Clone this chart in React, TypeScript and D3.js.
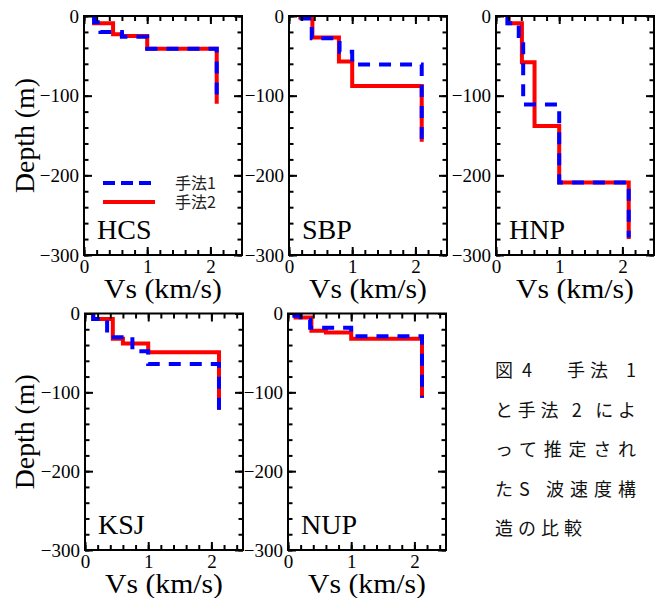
import React, { useEffect, useRef } from 'react'
import * as d3 from 'd3'

// 観測点
const STATIONS = ['HCS', 'SBP', 'HNP', 'KSJ', 'NUP']

// Vs (km/s) と層下端の深さ (m)  _1: 手法1, _2: 手法2
const HCS_VS_1 = [0.16, 0.26, 0.6, 1.0, 2.1]
const HCS_Z_1 = [8, 20, 26, 41, 108]
const HCS_VS_2 = [0.16, 0.46, 0.6, 1.0, 2.1]
const HCS_Z_2 = [9, 23, 25, 41, 110]

const SBP_VS_1 = [0.2, 0.36, 0.8, 1.0, 2.1]
const SBP_Z_1 = [3, 28, 45, 61, 158]
const SBP_VS_2 = [0.18, 0.37, 0.79, 1.0, 2.1]
const SBP_Z_2 = [2, 27, 57, 88, 158]

const HNP_VS_1 = [0.18, 0.36, 0.43, 1.0, 2.1]
const HNP_Z_1 = [9, 25, 111, 209, 278]
const HNP_VS_2 = [0.2, 0.41, 0.61, 1.0, 2.1]
const HNP_Z_2 = [9, 58, 138, 209, 280]

const KSJ_VS_1 = [0.13, 0.35, 0.75, 1.0, 2.12]
const KSJ_Z_1 = [7, 30, 48, 64, 127]
const KSJ_VS_2 = [0.13, 0.44, 0.6, 1.0, 2.12]
const KSJ_Z_2 = [7, 32, 38, 49, 122]

const NUP_VS_1 = [0.1, 0.2, 0.35, 1.0, 2.12]
const NUP_Z_1 = [3, 8, 18, 29, 107]
const NUP_VS_2 = [0.12, 0.37, 0.6, 1.0, 2.12]
const NUP_Z_2 = [5, 22, 24, 32, 107]

const METHOD1 = [[HCS_VS_1, HCS_Z_1], [SBP_VS_1, SBP_Z_1], [HNP_VS_1, HNP_Z_1], [KSJ_VS_1, KSJ_Z_1], [NUP_VS_1, NUP_Z_1]]
const METHOD2 = [[HCS_VS_2, HCS_Z_2], [SBP_VS_2, SBP_Z_2], [HNP_VS_2, HNP_Z_2], [KSJ_VS_2, KSJ_Z_2], [NUP_VS_2, NUP_Z_2]]

const LEGEND = ['手法1', '手法2']
const X_MAJOR = [0, 1, 2]
const Y_MAJOR = [0, -100, -200, -300]
const CAPTION = ['と手法 2 によ', 'って推定され', 'たS 波速度構', '造の比較']

// レイアウト
const PANEL_X = [84, 289, 496, 85, 288]
const PANEL_Y = [16, 16, 16, 313.5, 313.5]
const PANEL_W = 158
const PANEL_H = [239, 239, 239, 236.5, 236.5]
const SERIF = "'Liberation Serif', Tinos, 'Times New Roman', Times, serif"
const CJK = "'Noto Sans CJK JP', sans-serif"

function stepPoints(vs: number[], z: number[]) {
  const pts: [number, number][] = [[vs[0], 0]]
  vs.forEach((v, i) => {
    pts.push([v, z[i]])
    if (i < vs.length - 1) pts.push([vs[i + 1], z[i]])
  })
  return pts
}

function drawChart(el: SVGSVGElement) {
  const svg = d3.select(el)
  svg.selectAll('*').remove()

  STATIONS.forEach((name, k) => {
    const x0 = PANEL_X[k]
    const y0 = PANEL_Y[k]
    const h = PANEL_H[k]
    const g = svg.append('g').attr('transform', 'translate(' + x0 + ',' + y0 + ')')

    const x = d3.scaleLinear().domain([0, 2.5]).range([0, PANEL_W])
    const y = d3.scaleLinear().domain([-300, 0]).range([h, 0])

    const line = d3.line<[number, number]>()
      .x(d => x(d[0]))
      .y(d => y(-d[1]))

    // 手法2 (赤実線) を先に、手法1 (青破線) を上に
    g.append('path')
      .attr('d', line(stepPoints(METHOD2[k][0], METHOD2[k][1])))
      .attr('fill', 'none')
      .attr('stroke', '#ff0000')
      .attr('stroke-width', 4)
    g.append('path')
      .attr('d', line(stepPoints(METHOD1[k][0], METHOD1[k][1])))
      .attr('fill', 'none')
      .attr('stroke', '#0000ff')
      .attr('stroke-width', 4)
      .attr('stroke-dasharray', '12,9')

    // 目盛り (内向き)
    const xMinor = d3.range(0, 2.41, 0.2)
    const yMinor = d3.range(-300, 1, 20)
    const styleAxis = (a: any) => {
      a.attr('font-family', null).attr('font-size', null)
      a.select('.domain').remove()
      a.selectAll('line').attr('stroke', '#000').attr('stroke-width', 2)
      a.selectAll('text').style('font-family', SERIF).style('font-size', '19px').attr('fill', '#000')
    }

    g.append('g').attr('transform', 'translate(0,' + h + ')')
      .call(d3.axisBottom(x).tickValues(xMinor).tickSizeInner(-5).tickSizeOuter(0).tickFormat(() => ''))
      .call(styleAxis)
    g.append('g').attr('transform', 'translate(0,' + h + ')')
      .call(d3.axisBottom(x).tickValues(X_MAJOR).tickSizeInner(-8).tickSizeOuter(0).tickPadding(5).tickFormat(d3.format('d')))
      .call(styleAxis)
    g.append('g')
      .call(d3.axisTop(x).tickValues(xMinor).tickSizeInner(-5).tickSizeOuter(0).tickFormat(() => ''))
      .call(styleAxis)
    g.append('g')
      .call(d3.axisTop(x).tickValues(X_MAJOR).tickSizeInner(-8).tickSizeOuter(0).tickFormat(() => ''))
      .call(styleAxis)

    g.append('g')
      .call(d3.axisLeft(y).tickValues(yMinor).tickSizeInner(-4.5).tickSizeOuter(0).tickFormat(() => ''))
      .call(styleAxis)
    g.append('g')
      .call(d3.axisLeft(y).tickValues(Y_MAJOR).tickSizeInner(-8).tickSizeOuter(0).tickPadding(5).tickFormat(d3.format('d')))
      .call(styleAxis)
    g.append('g').attr('transform', 'translate(' + PANEL_W + ',0)')
      .call(d3.axisRight(y).tickValues(yMinor).tickSizeInner(-4.5).tickSizeOuter(0).tickFormat(() => ''))
      .call(styleAxis)
    g.append('g').attr('transform', 'translate(' + PANEL_W + ',0)')
      .call(d3.axisRight(y).tickValues(Y_MAJOR).tickSizeInner(-8).tickSizeOuter(0).tickFormat(() => ''))
      .call(styleAxis)

    // 枠
    g.append('rect')
      .attr('width', PANEL_W)
      .attr('height', h)
      .attr('fill', 'none')
      .attr('stroke', '#000')
      .attr('stroke-width', 2)

    // 観測点名
    g.append('text')
      .attr('x', 13)
      .attr('y', h - 16)
      .style('font-family', SERIF)
      .style('font-size', '28px')
      .text(name)

    // x 軸ラベル
    g.append('text')
      .attr('x', PANEL_W / 2)
      .attr('y', h + 43)
      .attr('text-anchor', 'middle')
      .style('font-family', SERIF)
      .style('font-size', '28px')
      .attr('textLength', 118)
      .attr('lengthAdjust', 'spacingAndGlyphs')
      .text('Vs (km/s)')

    // y 軸ラベル (左列のみ)
    if (k === 0 || k === 3) {
      g.append('text')
        .attr('transform', 'translate(' + (34 - x0) + ',' + h / 2 + ') rotate(-90)')
        .attr('text-anchor', 'middle')
        .style('font-family', SERIF)
        .style('font-size', '28px')
        .attr('textLength', 115)
        .attr('lengthAdjust', 'spacingAndGlyphs')
        .text('Depth (m)')
    }

    // 凡例 (HCS のみ)
    if (k === 0) {
      const colors = ['#0000ff', '#ff0000']
      LEGEND.forEach((lab, i) => {
        const ly = 167 + i * 19
        g.append('line')
          .attr('x1', 19).attr('x2', 71)
          .attr('y1', ly).attr('y2', ly)
          .attr('stroke', colors[i])
          .attr('stroke-width', 4)
          .attr('stroke-dasharray', i === 0 ? '12,6' : null)
        g.append('text')
          .attr('x', 91)
          .attr('y', ly + 6)
          .style('font-family', CJK)
          .style('font-size', '16px')
          .attr('fill', '#222')
          .text(lab)
      })
    }
  })

  // 図の説明
  const cap = svg.append('g').style('font-family', CJK).style('font-size', '18px').attr('fill', '#111')
  const first = cap.append('text').attr('y', 377)
  first.append('tspan').attr('x', 495).text('図')
  first.append('tspan').attr('x', 522).text('4')
  first.append('tspan').attr('x', 567).text('手')
  first.append('tspan').attr('x', 590).text('法')
  first.append('tspan').attr('x', 626).text('1')
  CAPTION.forEach((s, i) => {
    const t = cap.append('text')
      .attr('x', 495)
      .attr('y', 417 + i * 39.3)
      .text(s)
    if (i < 3) t.attr('textLength', 141).attr('lengthAdjust', 'spacing')
    else t.attr('letter-spacing', 5)
  })
}

export default function App() {
  const ref = useRef<SVGSVGElement>(null)

  useEffect(() => {
    if (ref.current) drawChart(ref.current)
  }, [])

  return (
    <svg
      ref={ref}
      width={658}
      height={598}
      style={{ position: 'absolute', left: 0, top: 0, background: '#fff' }}
    />
  )
}
